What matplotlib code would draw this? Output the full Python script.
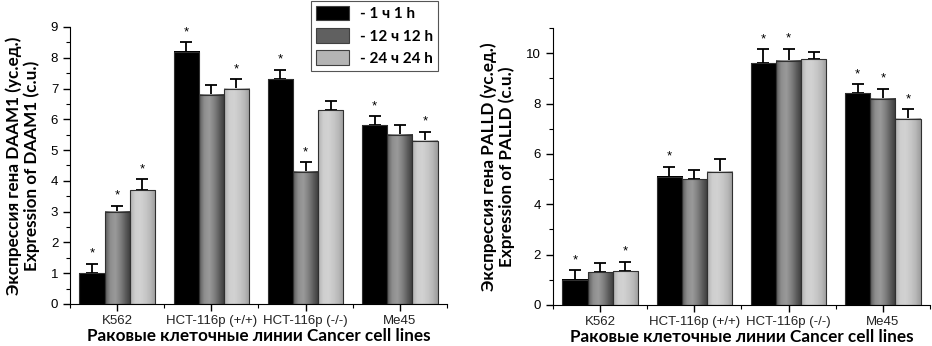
import numpy as np
import matplotlib.pyplot as plt
from matplotlib.patches import Patch
from matplotlib.ticker import MultipleLocator, FixedLocator
from matplotlib.colors import LinearSegmentedColormap

plt.rcParams['font.family'] = ['Liberation Sans', 'DejaVu Sans']

# Data
cell_lines = ['K562', 'HCT-116p (+/+)', 'HCT-116p (-/-)', 'Me45']
series_labels = ['- 1 ч 1 h', '- 12 ч 12 h', '- 24 ч 24 h']

daam1_1h = [1.0, 8.2, 7.3, 5.8]
daam1_12h = [3.0, 6.8, 4.3, 5.5]
daam1_24h = [3.7, 7.0, 6.3, 5.3]
daam1_err_1h = [0.3, 0.3, 0.3, 0.3]
daam1_err_12h = [0.2, 0.3, 0.3, 0.3]
daam1_err_24h = [0.35, 0.3, 0.3, 0.3]
daam1_star_1h = [True, True, True, True]
daam1_star_12h = [True, False, True, False]
daam1_star_24h = [True, True, False, True]

palld_1h = [1.0, 5.1, 9.6, 8.4]
palld_12h = [1.3, 5.0, 9.7, 8.2]
palld_24h = [1.35, 5.3, 9.75, 7.4]
palld_err_1h = [0.37, 0.38, 0.55, 0.37]
palld_err_12h = [0.38, 0.37, 0.47, 0.38]
palld_err_24h = [0.37, 0.5, 0.31, 0.37]
palld_star_1h = [True, True, True, True]
palld_star_12h = [False, False, True, True]
palld_star_24h = [True, False, False, True]

# gradients that imitate the shaded bars
grad_colors = [
    ['#000000', '#000000'],
    ['#5a5a5a', '#8e8e8e', '#9a9a9a', '#808080', '#5c5c5c', '#3a3a3a'],
    ['#b0b0b0', '#cfcfcf', '#d2d2d2', '#c8c8c8', '#b8b8b8', '#9c9c9c'],
]
legend_colors = ['#000000', '#606060', '#b4b4b4']
cmaps = [LinearSegmentedColormap.from_list('g%d' % i, c) for i, c in enumerate(grad_colors)]


def draw_panel(ax, values, errors, stars, ymax, major, minor, ylabel):
    x = np.arange(len(cell_lines)) + 0.5
    width = 0.8 / 3
    grad = np.linspace(0, 1, 64)[np.newaxis, :]
    for i in range(3):
        pos = x + (i - 1) * width
        bars = ax.bar(pos, values[i], width, facecolor='none', edgecolor='#303030',
                      linewidth=0.8, zorder=3)
        for b in bars:
            x0 = b.get_x()
            ax.imshow(grad, cmap=cmaps[i], extent=[x0, x0 + width, 0, b.get_height()],
                      aspect='auto', zorder=2)
        ax.errorbar(pos, values[i], yerr=[np.zeros(len(pos)), errors[i]], fmt='none',
                    ecolor='black', elinewidth=1.3, capsize=4.5, capthick=1.3, zorder=1)
        for p, v, e, s in zip(pos, values[i], errors[i], stars[i]):
            if s:
                ax.text(p, v + e + ymax * 0.015, '*', ha='center', va='bottom',
                        fontsize=9.5)

    ax.set_xlim(0, 4)
    ax.set_ylim(0, ymax)
    ax.set_aspect('auto')
    ax.spines['top'].set_visible(False)
    ax.spines['right'].set_visible(False)
    ax.xaxis.set_major_locator(FixedLocator(x))
    ax.xaxis.set_minor_locator(FixedLocator([0, 1, 2, 3, 4]))
    ax.set_xticklabels(cell_lines, fontsize=9.5, color='#222222')
    ax.yaxis.set_major_locator(MultipleLocator(major))
    ax.yaxis.set_minor_locator(MultipleLocator(minor))
    ax.tick_params(which='major', direction='out', length=5, width=1, labelsize=9.5)
    ax.tick_params(which='minor', direction='out', length=3, width=0.8)
    ax.tick_params(axis='x', which='major', pad=3)
    ax.set_xlabel('Раковые клеточные линии Cancer cell lines', fontsize=12.3,
                  fontweight='bold', family='Lato', labelpad=1)
    ax.set_ylabel(ylabel, fontsize=12.3, fontweight='bold', family='Lato',
                  labelpad=8, linespacing=1.1)


fig = plt.figure(figsize=(9.32, 3.46), dpi=100)
ax1 = fig.add_axes([0.0751, 0.1214, 0.4045, 0.8006])
ax2 = fig.add_axes([0.5933, 0.1185, 0.4046, 0.8006])

draw_panel(ax1, [daam1_1h, daam1_12h, daam1_24h],
           [daam1_err_1h, daam1_err_12h, daam1_err_24h],
           [daam1_star_1h, daam1_star_12h, daam1_star_24h],
           9, 1, 0.5, 'Экспрессия гена DAAM1 (ус.ед.)\nExpression of DAAM1 (c.u.)')
draw_panel(ax2, [palld_1h, palld_12h, palld_24h],
           [palld_err_1h, palld_err_12h, palld_err_24h],
           [palld_star_1h, palld_star_12h, palld_star_24h],
           11, 2, 1, 'Экспрессия гена PALLD (ус.ед.)\nExpression of PALLD (c.u.)')
ax1.set_ylim(0, 9)
ax2.set_ylim(0, 11)
ax2.set_yticks([0, 2, 4, 6, 8, 10])

handles = [Patch(facecolor=c, edgecolor='#404040', linewidth=0.8) for c in legend_colors]
leg = fig.legend(handles, series_labels, loc='upper left', bbox_to_anchor=(0.3337, 0.997),
                 borderaxespad=0, fancybox=False, edgecolor='#555555', framealpha=1,
                 handlelength=2.2, handleheight=1.1, labelspacing=0.45, handletextpad=0.7,
                 borderpad=0.3, prop={'family': 'Lato', 'weight': 'bold', 'size': 11})
leg.get_frame().set_linewidth(0.8)

fig.savefig('out.png', dpi=100)
